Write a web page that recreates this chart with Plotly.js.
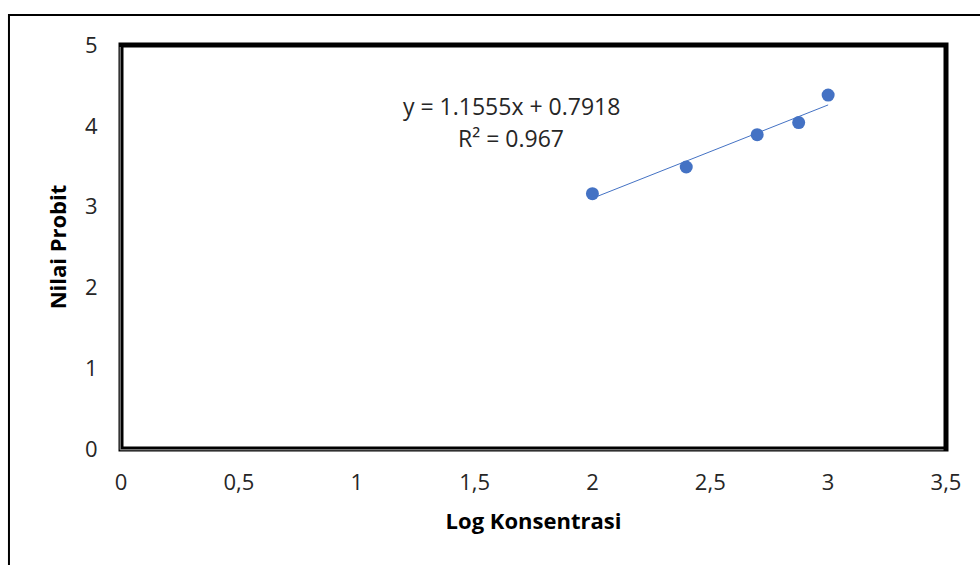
<!DOCTYPE html>
<html>
<head>
<meta charset="utf-8">
<script src="https://cdn.plot.ly/plotly-3.0.1.min.js"></script>
<style>
html,body{margin:0;padding:0;background:#fff;}
#chart{width:980px;height:565px;}
</style>
</head>
<body>
<div id="chart"></div>
<script>
// Data
var logKonsentrasi = [2.0, 2.398, 2.699, 2.875, 3.0];
var nilaiProbit = [3.16, 3.49, 3.89, 4.04, 4.38];
var trendSlope = [1.1555];
var trendIntercept = [0.7918];
var trendXRange = [2.0, 3.0];
var xTickVals = [0, 0.5, 1, 1.5, 2, 2.5, 3, 3.5];
var xTickText = ["0", "0,5", "1", "1,5", "2", "2,5", "3", "3,5"];
var yTickVals = [0, 1, 2, 3, 4, 5];
var yTickText = ["0", "1", "2", "3", "4", "5"];
var equationText = ["y = 1.1555x + 0.7918", "R\u00b2 = 0.967"];

var trendY = trendXRange.map(function (x) { return trendSlope[0] * x + trendIntercept[0]; });

var blue = "#4472C4";
var fontFam = "'Open Sans', sans-serif";

var traces = [
  {
    x: trendXRange, y: trendY, mode: "lines", type: "scatter",
    line: {color: blue, width: 1}, hoverinfo: "skip", showlegend: false
  },
  {
    x: logKonsentrasi, y: nilaiProbit, mode: "markers", type: "scatter",
    marker: {color: blue, size: 13}, showlegend: false
  }
];

var layout = {
  width: 980, height: 565,
  margin: {l: 121, r: 34, t: 45, b: 116},
  paper_bgcolor: "#ffffff", plot_bgcolor: "#ffffff",
  font: {family: fontFam, color: "#262626", size: 22},
  xaxis: {
    range: [0, 3.5], tickvals: xTickVals, ticktext: xTickText,
    showgrid: false, zeroline: false, showline: false,
    ticks: "outside", ticklen: 14, tickcolor: "rgba(0,0,0,0)",
    tickfont: {size: 22, color: "#262626"},
    title: {text: "Log Konsentrasi", font: {size: 22, color: "#000", family: fontFam, weight: "bold"}, standoff: 18}
  },
  yaxis: {
    range: [0, 5], tickvals: yTickVals, ticktext: yTickText,
    showgrid: false, zeroline: false, showline: false,
    ticks: "outside", ticklen: 18, tickcolor: "rgba(0,0,0,0)",
    tickfont: {size: 22, color: "#262626"},
    title: {text: "Nilai Probit", font: {size: 22, color: "#000", family: fontFam, weight: "bold"}, standoff: 12}
  },
  shapes: [
    {type: "rect", xref: "paper", yref: "paper", x0: -0.1358, x1: 1.06, y0: -0.32, y1: 1.0743,
     line: {color: "#000", width: 2}, fillcolor: "rgba(0,0,0,0)", layer: "above"},
    {type: "rect", xref: "paper", yref: "paper", x0: 0, x1: 1, y0: 0, y1: 1,
     line: {color: "#000", width: 5}, fillcolor: "rgba(0,0,0,0)", layer: "above"},
    {type: "line", xref: "paper", yref: "paper", x0: -0.001, x1: -0.001, y0: -0.002, y1: 0.995,
     line: {color: "#A6A6A6", width: 1}, layer: "above"},
    {type: "line", xref: "paper", yref: "paper", x0: -0.001, x1: 0.997, y0: -0.002, y1: -0.002,
     line: {color: "#A6A6A6", width: 1}, layer: "above"}
  ],
  annotations: [
    {xref: "paper", yref: "paper", x: (511 - 121) / 825, y: (449 - 106) / 404,
     text: equationText[0], showarrow: false, xanchor: "center", yanchor: "middle",
     font: {size: 23, color: "#262626", family: fontFam}},
    {xref: "paper", yref: "paper", x: (511 - 121) / 825, y: (449 - 138) / 404,
     text: equationText[1], showarrow: false, xanchor: "center", yanchor: "middle",
     font: {size: 23, color: "#262626", family: fontFam}}
  ]
};

Plotly.newPlot("chart", traces, layout, {displayModeBar: false, staticPlot: true});
</script>
</body>
</html>
